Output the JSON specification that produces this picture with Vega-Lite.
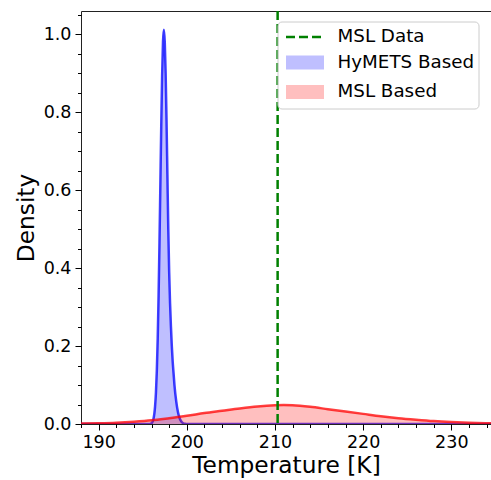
{
  "$schema": "https://vega.github.io/schema/vega-lite/v6.json",
  "width": 410,
  "height": 413,
  "autosize": {"type": "none"},
  "padding": {"left": 81, "top": 11, "right": 0, "bottom": 56},
  "background": "white",
  "config": {
    "view": {"stroke": "#222222", "strokeWidth": 1},
    "font": "DejaVu Sans",
    "axis": {
      "labelFont": "DejaVu Sans", "titleFont": "DejaVu Sans",
      "labelColor": "black", "titleColor": "black",
      "tickColor": "black", "tickWidth": 1, "domain": false, "grid": false,
      "titleFontWeight": "normal"
    }
  },
  "data": {
    "values": [
      {"series": "HyMETS Based", "T": 188.0, "d": 0},
      {"series": "HyMETS Based", "T": 195.6, "d": 0},
      {"series": "HyMETS Based", "T": 195.8, "d": 0.0003},
      {"series": "HyMETS Based", "T": 196.0, "d": 0.002},
      {"series": "HyMETS Based", "T": 196.2, "d": 0.011},
      {"series": "HyMETS Based", "T": 196.4, "d": 0.045},
      {"series": "HyMETS Based", "T": 196.5, "d": 0.081},
      {"series": "HyMETS Based", "T": 196.6, "d": 0.137},
      {"series": "HyMETS Based", "T": 196.7, "d": 0.219},
      {"series": "HyMETS Based", "T": 196.8, "d": 0.329},
      {"series": "HyMETS Based", "T": 196.9, "d": 0.463},
      {"series": "HyMETS Based", "T": 197.0, "d": 0.614},
      {"series": "HyMETS Based", "T": 197.1, "d": 0.764},
      {"series": "HyMETS Based", "T": 197.2, "d": 0.893},
      {"series": "HyMETS Based", "T": 197.3, "d": 0.981},
      {"series": "HyMETS Based", "T": 197.4, "d": 1.012},
      {"series": "HyMETS Based", "T": 197.5, "d": 0.98},
      {"series": "HyMETS Based", "T": 197.6, "d": 0.9},
      {"series": "HyMETS Based", "T": 197.7, "d": 0.78},
      {"series": "HyMETS Based", "T": 197.8, "d": 0.64},
      {"series": "HyMETS Based", "T": 197.9, "d": 0.5},
      {"series": "HyMETS Based", "T": 198.0, "d": 0.39},
      {"series": "HyMETS Based", "T": 198.1, "d": 0.31},
      {"series": "HyMETS Based", "T": 198.2, "d": 0.25},
      {"series": "HyMETS Based", "T": 198.3, "d": 0.2},
      {"series": "HyMETS Based", "T": 198.4, "d": 0.16},
      {"series": "HyMETS Based", "T": 198.5, "d": 0.13},
      {"series": "HyMETS Based", "T": 198.6, "d": 0.1},
      {"series": "HyMETS Based", "T": 198.8, "d": 0.058},
      {"series": "HyMETS Based", "T": 199.0, "d": 0.03},
      {"series": "HyMETS Based", "T": 199.2, "d": 0.014},
      {"series": "HyMETS Based", "T": 199.4, "d": 0.006},
      {"series": "HyMETS Based", "T": 199.6, "d": 0.002},
      {"series": "HyMETS Based", "T": 199.8, "d": 0.0005},
      {"series": "HyMETS Based", "T": 200.0, "d": 0},
      {"series": "HyMETS Based", "T": 234.5, "d": 0},
      {"series": "MSL Based", "T": 188, "d": 0.001},
      {"series": "MSL Based", "T": 190, "d": 0.002},
      {"series": "MSL Based", "T": 192, "d": 0.0035},
      {"series": "MSL Based", "T": 194, "d": 0.006},
      {"series": "MSL Based", "T": 196, "d": 0.0095},
      {"series": "MSL Based", "T": 198, "d": 0.015},
      {"series": "MSL Based", "T": 200, "d": 0.021},
      {"series": "MSL Based", "T": 202, "d": 0.028},
      {"series": "MSL Based", "T": 204, "d": 0.034},
      {"series": "MSL Based", "T": 206, "d": 0.04},
      {"series": "MSL Based", "T": 208, "d": 0.045},
      {"series": "MSL Based", "T": 210, "d": 0.048},
      {"series": "MSL Based", "T": 211, "d": 0.0485},
      {"series": "MSL Based", "T": 212, "d": 0.048},
      {"series": "MSL Based", "T": 214, "d": 0.044},
      {"series": "MSL Based", "T": 216, "d": 0.038},
      {"series": "MSL Based", "T": 218, "d": 0.032},
      {"series": "MSL Based", "T": 220, "d": 0.026},
      {"series": "MSL Based", "T": 222, "d": 0.02},
      {"series": "MSL Based", "T": 224, "d": 0.015},
      {"series": "MSL Based", "T": 226, "d": 0.011},
      {"series": "MSL Based", "T": 228, "d": 0.0075},
      {"series": "MSL Based", "T": 230, "d": 0.005},
      {"series": "MSL Based", "T": 232, "d": 0.0032},
      {"series": "MSL Based", "T": 234, "d": 0.002},
      {"series": "MSL Based", "T": 235, "d": 0.0015},
      {"series": "MSL Data", "T": 210.3}
    ]
  },
  "resolve": {"axis": {"x": "independent", "y": "independent"}},
  "layer": [
    {
      "transform": [{"filter": "datum.series === 'HyMETS Based'"}],
      "mark": {"type": "area", "interpolate": "monotone", "fillOpacity": 1, "clip": true},
      "encoding": {
        "x": {"field": "T", "type": "quantitative",
          "scale": {"domain": [188, 234.5], "nice": false, "zero": false},
          "axis": {"orient": "bottom", "values": [190, 200, 210, 220, 230], "format": "d",
            "labelFontSize": 17.5, "tickSize": 6, "labelPadding": 3,
            "title": "Temperature [K]", "titleFontSize": 23.3, "titlePadding": 4}},
        "y": {"field": "d", "type": "quantitative",
          "scale": {"domain": [0, 1.06], "nice": false},
          "axis": {"orient": "left", "values": [0, 0.2, 0.4, 0.6, 0.8, 1.0], "format": ".1f",
            "labelFontSize": 17.5, "tickSize": 6, "labelPadding": 4,
            "title": "Density", "titleFontSize": 23.3, "titlePadding": 5}},
        "color": {"field": "series", "type": "nominal",
          "scale": {"domain": ["MSL Data", "HyMETS Based", "MSL Based"], "range": ["green", "#bfbfff", "#ffbfbf"]},
          "legend": {
            "title": null, "orient": "none", "legendX": 196.5, "legendY": 10.5,
            "labelFont": "DejaVu Sans", "labelFontSize": 18.3, "labelColor": "black",
            "symbolSize": 400, "labelOffset": 33, "rowPadding": 4.5, "padding": 4,
            "strokeColor": "#cccccc", "fillColor": "rgba(255,255,255,0.8)", "cornerRadius": 4,
            "encode": {"symbols": {"update": {
              "shape": {"signal": "datum.value === 'MSL Data' ? 'M-0.7,0H3.1' : 'M-0.7,-0.7H3.1V0.7H-0.7Z'"},
              "stroke": {"signal": "datum.value === 'MSL Data' ? 'green' : 'transparent'"},
              "strokeDash": {"signal": "datum.value === 'MSL Data' ? [9, 4] : [1, 0]"},
              "strokeWidth": {"value": 2.5},
              "opacity": {"value": 1},
              "fillOpacity": {"value": 1},
              "strokeOpacity": {"value": 1}
            }}}
          }}
      }
    },
    {
      "transform": [{"filter": "datum.series === 'HyMETS Based'"}],
      "mark": {"type": "line", "interpolate": "monotone", "strokeWidth": 2.5, "color": "blue", "strokeOpacity": 0.75, "clip": true},
      "encoding": {
        "x": {"field": "T", "type": "quantitative",
          "axis": {"orient": "bottom", "values": [188, 192, 194, 196, 198, 202, 204, 206, 208, 212, 214, 216, 218, 222, 224, 226, 228, 232, 234],
            "labels": false, "tickSize": 3.5, "title": null}},
        "y": {"field": "d", "type": "quantitative",
          "axis": {"orient": "left", "values": [0.05, 0.1, 0.15, 0.25, 0.3, 0.35, 0.45, 0.5, 0.55, 0.65, 0.7, 0.75, 0.85, 0.9, 0.95, 1.05],
            "labels": false, "tickSize": 3.5, "title": null}}
      }
    },
    {
      "transform": [{"filter": "datum.series === 'MSL Based'"}],
      "mark": {"type": "area", "interpolate": "monotone", "color": "red", "fillOpacity": 0.25, "clip": true},
      "encoding": {
        "x": {"field": "T", "type": "quantitative", "axis": null},
        "y": {"field": "d", "type": "quantitative", "axis": null}
      }
    },
    {
      "transform": [{"filter": "datum.series === 'MSL Based'"}],
      "mark": {"type": "line", "interpolate": "monotone", "strokeWidth": 2.5, "color": "red", "strokeOpacity": 0.75, "clip": true},
      "encoding": {
        "x": {"field": "T", "type": "quantitative", "axis": null},
        "y": {"field": "d", "type": "quantitative", "axis": null}
      }
    },
    {
      "transform": [{"filter": "datum.series === 'MSL Data'"}],
      "mark": {"type": "rule", "color": "green", "strokeWidth": 2.5, "strokeDash": [9, 4]},
      "encoding": {
        "x": {"field": "T", "type": "quantitative", "axis": null}
      }
    }
  ]
}
